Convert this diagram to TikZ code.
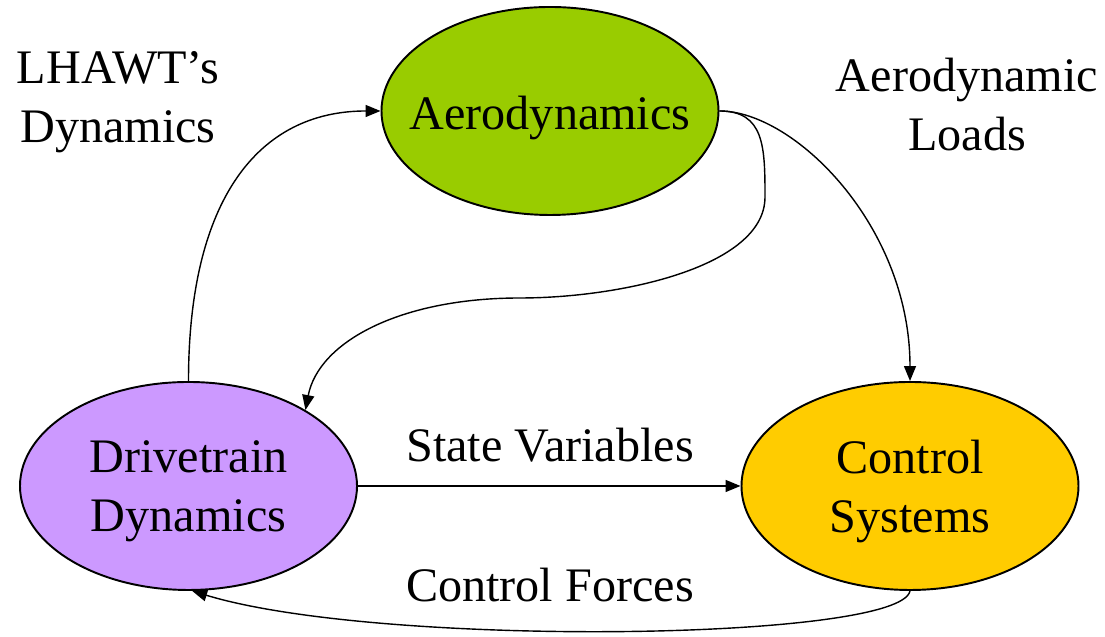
\documentclass[tikz,border=0pt]{standalone}
\usepackage{fontspec}
\setmainfont{Liberation Serif}
\usetikzlibrary{arrows.meta,shapes.geometric}
\definecolor{aerogreen}{rgb}{0.60,0.80,0.00}
\definecolor{drivepurple}{rgb}{0.80,0.60,1.00}
\definecolor{ctrlyellow}{rgb}{1.00,0.80,0.00}

\begin{document}
\begin{tikzpicture}[
  font=\fontsize{27.4}{33.6}\selectfont,
  module/.style={ellipse, draw, line width=1.1pt, minimum width=6.74cm, minimum height=4.16cm, inner sep=0pt},
  blocktext/.style={align=center, yshift=-0.11cm},
  link/.style={-{Triangle[length=3mm,width=2.4mm]}, line width=0.8pt},
  note/.style={align=center, inner sep=0pt}
]
\useasboundingbox (0,0) rectangle (22.1,12.74);

% model blocks (text as centred labels so the ellipses keep their size)
\node[module, fill=aerogreen, label={[blocktext, yshift=-0.04cm]center:Aerodynamics}] (aero) at (11.0,10.52) {};
\node[module, fill=drivepurple, label={[blocktext]center:Drivetrain\\Dynamics}] (drive) at (3.77,3.02) {};
\node[module, fill=ctrlyellow, label={[blocktext]center:Control\\Systems}] (ctrl) at (18.2,3.02) {};

% labels
\node[note] (lhawt) at (2.36,10.70) {LHAWT's\\Dynamics};
\node[note] (loads) at (19.34,10.64) {Aerodynamic\\Loads};
\node[note] (state) at (11.0,3.84) {State Variables};
\node[note] (forces) at (11.0,1.04) {Control Forces};

% bends of the feedback path
\coordinate (bend1) at (15.30,8.80);
\coordinate (bend2) at (10.4,6.78);

% connections
\draw[link] (drive.north) .. controls +(0,3.64) and +(-2.44,0) .. (aero.west);
\draw[link] (aero.east) .. controls +(1.5,0) and +(0,3.1) .. (ctrl.north);
\draw[link] (aero.east) .. controls +(0.9,0) and +(0,1.0) .. (bend1)
  .. controls +(0,-1.4) and +(2.0,0) .. (bend2)
  .. controls +(-2.4,0) and +(0.26,1.36) .. (drive.33);
\draw[link] (drive.east) -- (ctrl.west);
\draw[link] (ctrl.south) .. controls +(-0.2,-1.0) and +(3.74,-1.14) .. (drive.-88);
\end{tikzpicture}
\end{document}
